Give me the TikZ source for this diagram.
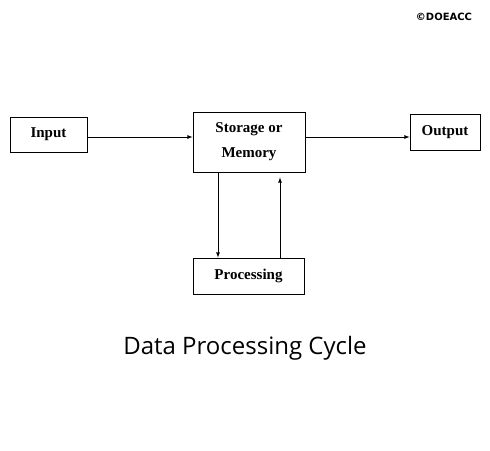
\documentclass[tikz,border=0pt]{standalone}
\usepackage{fontspec}
\setmainfont{Liberation Serif}
\newfontfamily\titlefont{Open Sans}
\newfontfamily\notefont{DejaVu Sans}

\begin{document}
\begin{tikzpicture}[x=1pt, y=-1pt]

		\tikzstyle{block}  = [rectangle, draw, thick, inner sep=0pt, fill=white, font=\fontsize{15}{25}\selectfont\bfseries]
		\tikzstyle{flow}  = [-latex, thick]
		\useasboundingbox (0, 0) rectangle (490, 450);

		\node [block, minimum width=77pt, minimum height=35pt](input) at (48.5, 134.5) {Input};
		\node [block, minimum width=112pt, minimum height=60pt, align=center](store) at (249, 142) {Storage or\\Memory};
		\node [block, minimum width=70pt, minimum height=36pt](output) at (445, 132) {Output};
		\node [block, minimum width=111pt, minimum height=36pt](proc) at (248.5, 276) {Processing};

		%%Title and note
		\node (title) at (245, 348) {\titlefont\fontsize{24}{28}\selectfont Data Processing Cycle};
		\node (note) at (444, 17) {\notefont\fontsize{10}{12}\selectfont\bfseries \textcopyright DOEACC};

		\draw [flow] (input.east |- 0, 137) -- (store.west |- 0, 137);
		\draw [flow] (store.east |- 0, 137) -- (output.west |- 0, 137);
		\draw [flow] ([xshift=-31pt]store.south) -- ([xshift=-30.5pt]proc.north);
		\draw [flow] ([xshift=31.5pt]proc.north) -- ([xshift=31pt, yshift=-5pt]store.south);
	\end{tikzpicture}
\end{document}
